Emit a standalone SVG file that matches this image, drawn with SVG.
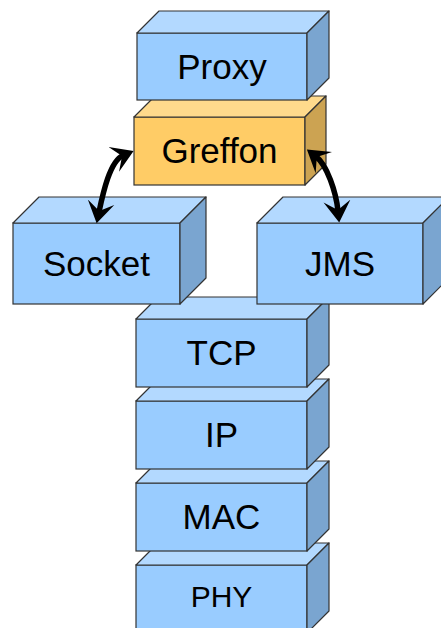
<svg xmlns="http://www.w3.org/2000/svg" width="441" height="628" viewBox="0 0 441 628">
<defs>
<style>
.bf{fill:#99CCFF;stroke:#333;stroke-width:1.2}
.bt{fill:#B3D9FF;stroke:#333;stroke-width:1.2;stroke-linejoin:round}
.br{fill:#7AA5D0;stroke:#333;stroke-width:1.2;stroke-linejoin:round}
.of{fill:#FFCC66;stroke:#333;stroke-width:1.2}
.ot{fill:#FFDA8C;stroke:#333;stroke-width:1.2;stroke-linejoin:round}
.or{fill:#CCA352;stroke:#333;stroke-width:1.2;stroke-linejoin:round}
.lbl{font-family:"Liberation Sans",Arial,sans-serif;font-size:35px;fill:#000;text-anchor:middle}
.arr{fill:none;stroke:#000;stroke-width:5.5}
</style>
<marker id="ah" viewBox="0 0 22 28" refX="10" refY="14" markerWidth="22" markerHeight="28" markerUnits="userSpaceOnUse" orient="auto-start-reverse">
<path d="M0,0.5 L21.5,14 L0,27.5 L9,14 z" fill="#000"/>
</marker>
</defs>
<rect width="441" height="628" fill="#fff"/>

<g id="phy">
<rect class="bf" x="136" y="565" width="171" height="68"/>
<polygon class="bt" points="136,565 158,543 329,543 307,565"/>
<polygon class="br" points="307,565 329,543 329,611 307,633"/>
<text class="lbl" x="221.5" y="607" style="font-size:30px">PHY</text>
</g>
<g id="mac">
<rect class="bf" x="136" y="483" width="171" height="68"/>
<polygon class="bt" points="136,483 158,461 329,461 307,483"/>
<polygon class="br" points="307,483 329,461 329,529 307,551"/>
<text class="lbl" x="221.5" y="529">MAC</text>
</g>
<g id="ip">
<rect class="bf" x="136" y="401" width="171" height="68"/>
<polygon class="bt" points="136,401 158,379 329,379 307,401"/>
<polygon class="br" points="307,401 329,379 329,447 307,469"/>
<text class="lbl" x="221.5" y="447">IP</text>
</g>
<g id="tcp">
<rect class="bf" x="136" y="319" width="171" height="68"/>
<polygon class="bt" points="136,319 158,297 329,297 307,319"/>
<polygon class="br" points="307,319 329,297 329,365 307,387"/>
<text class="lbl" x="221.5" y="365">TCP</text>
</g>
<g id="jms">
<rect class="bf" x="257" y="223" width="166" height="81"/>
<polygon class="bt" points="257,223 283,197 449,197 423,223"/>
<polygon class="br" points="423,223 449,197 449,278 423,304"/>
<text class="lbl" x="340" y="276">JMS</text>
</g>
<g id="socket">
<rect class="bf" x="13" y="223" width="167" height="81"/>
<polygon class="bt" points="13,223 39,197 206,197 180,223"/>
<polygon class="br" points="180,223 206,197 206,278 180,304"/>
<text class="lbl" x="96.5" y="276">Socket</text>
</g>
<g id="greffon">
<rect class="of" x="134" y="117" width="171" height="68"/>
<polygon class="ot" points="134,117 155,96 326,96 305,117"/>
<polygon class="or" points="305,117 326,96 326,164 305,185"/>
<text class="lbl" x="219.5" y="163">Greffon</text>
</g>
<g id="proxy">
<rect class="bf" x="137" y="33" width="170" height="67"/>
<polygon class="bt" points="137,33 159,11 329,11 307,33"/>
<polygon class="br" points="307,33 329,11 329,78 307,100"/>
<text class="lbl" x="222" y="78.5">Proxy</text>
</g>

<g id="connectors">
<path class="arr" d="M123,155.5 C110,161 103,193 99,212" marker-start="url(#ah)" marker-end="url(#ah)"/>
<path class="arr" d="M316,156.5 C327,165 336,192 338,211" marker-start="url(#ah)" marker-end="url(#ah)"/>
</g>
</svg>
